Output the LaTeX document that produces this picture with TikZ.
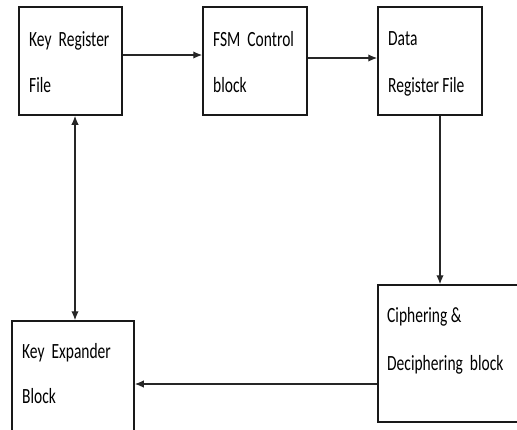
\documentclass[tikz,border=0pt]{standalone}
\usepackage{fontspec}
\setmainfont{Carlito}
\usetikzlibrary{arrows.meta}
\tikzset{
  box/.style={draw=black!90, line width=1.5pt, rectangle, inner sep=0pt},
  txt/.style={anchor=base west, inner sep=0pt, font=\fontsize{15.5}{15.5}\selectfont, text=black},
  tip/.tip={Latex[length=9pt,width=7.5pt]},
  arr/.style={draw=black!85, line width=1.4pt, -tip},
  arrb/.style={draw=black!85, line width=1.4pt, tip-tip}
}
\newcommand{\vtxt}[1]{\scalebox{1}[1.4]{#1}}
\begin{document}
\begin{tikzpicture}[x=1pt,y=-1pt]
\useasboundingbox (0,0) rectangle (517,429);
\clip (0,0) rectangle (517,429);
\fill[white] (0,0) rectangle (517,429);
\node[box, minimum width=103pt, minimum height=108pt] (b1) at (70.5,61) {};
\node[box, minimum width=104pt, minimum height=108pt] (b2) at (255,61) {};
\node[box, minimum width=104pt, minimum height=108pt] (b3) at (430,61) {};
\node[box, minimum width=180pt, minimum height=137pt] (b4) at (468,353.5) {};
\node[box, minimum width=122pt, minimum height=140pt] (b5) at (73,391) {};
\node[txt] (t1a) at (29,46) {\vtxt{Key\ \ Register}};
\node[txt] (t1b) at (29,92) {\vtxt{File}};
\node[txt] (t2a) at (213,46) {\vtxt{FSM\ \ Control}};
\node[txt] (t2b) at (213,92) {\vtxt{block}};
\node[txt] (t3a) at (388,45) {\vtxt{Data}};
\node[txt] (t3b) at (388,92) {\vtxt{Register File}};
\node[txt] (t4a) at (387,322) {\vtxt{Ciphering \&}};
\node[txt] (t4b) at (387,370) {\vtxt{Deciphering\ \ block}};
\node[txt] (t5a) at (22,358) {\vtxt{Key\ \ Expander}};
\node[txt] (t5b) at (22,403) {\vtxt{Block}};
\coordinate (h) at (0,384);
\draw[arr] ([yshift=6pt]b1.east) -- ([yshift=6pt]b2.west);
\draw[arr] ([yshift=3pt]b2.east) -- ([yshift=3pt]b3.west);
\draw[arr] ([xshift=10pt]b3.south) -- ([xshift=10pt]b3.south |- b4.north);
\draw[arrb] ([xshift=4.5pt]b1.south) -- ([xshift=4.5pt]b1.south |- b5.north);
\draw[arr] (b4.west |- h) -- (b5.east |- h);
\end{tikzpicture}
\end{document}
